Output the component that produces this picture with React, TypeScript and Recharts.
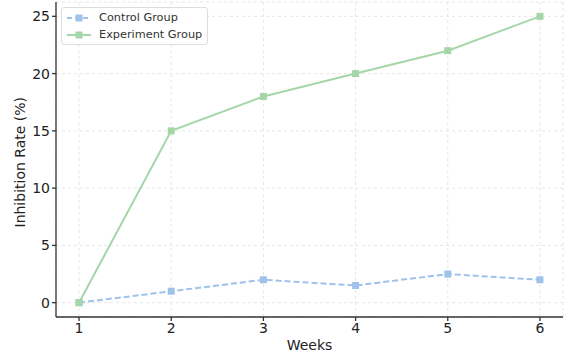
import { LineChart, Line, XAxis, YAxis, CartesianGrid } from "recharts";

const weeks = [1, 2, 3, 4, 5, 6];
const controlGroup = [0, 1, 2, 1.5, 2.5, 2];
const experimentGroup = [0, 15, 18, 20, 22, 25];
const yTicks = [0, 5, 10, 15, 20, 25];

const data = weeks.map((w, i) => ({
  week: w,
  control: controlGroup[i],
  experiment: experimentGroup[i],
}));

const FONT = "DejaVu Sans, sans-serif";
const BLUE = "#9ec2ea";
const GREEN = "#a5d6a7";

function Square(props: any) {
  const { cx, cy, fill } = props;
  if (cx == null || cy == null) return null;
  return <rect x={cx - 3.5} y={cy - 3.5} width={7} height={7} fill={fill} />;
}

function LegendBox() {
  const items = [
    { label: "Control Group", color: BLUE, dash: "5 3" },
    { label: "Experiment Group", color: GREEN, dash: undefined },
  ];
  return (
    <div
      style={{
        position: "absolute",
        left: 61,
        top: 7,
        background: "rgba(255,255,255,0.85)",
        border: "1px solid #dddddd",
        borderRadius: 3,
        padding: "1px 5px 1px 4px",
        fontFamily: FONT,
        fontSize: 11.3,
        color: "#333",
        lineHeight: "17px",
      }}
    >
      {items.map((it) => (
        <div key={it.label} style={{ display: "flex", alignItems: "center" }}>
          <svg width={26} height={10} style={{ marginRight: 7 }}>
            <line x1={1} y1={5} x2={25} y2={5} stroke={it.color} strokeWidth={2} strokeDasharray={it.dash} />
            <rect x={9.5} y={1.5} width={7} height={7} fill={it.color} />
          </svg>
          <span>{it.label}</span>
        </div>
      ))}
    </div>
  );
}

export default function App() {
  return (
    <div style={{ position: "absolute", left: 0, top: 0, width: 588, height: 362, background: "#fff" }}>
      <LineChart
        width={588}
        height={362}
        data={data}
        margin={{ top: 2, right: 25, left: 0, bottom: 0 }}
      >
        <CartesianGrid stroke="#e6e6e6" strokeDasharray="3 3" />
        <XAxis
          dataKey="week"
          type="number"
          domain={[0.75, 6.25]}
          ticks={weeks}
          allowDataOverflow
          height={45}
          stroke="#333"
          strokeWidth={1.3}
          tickSize={4}
          tick={{ fontSize: 14, fontFamily: FONT, fill: "#222" }}
          label={{ value: "Weeks", position: "insideBottom", offset: 12, fontSize: 14, fontFamily: FONT, fill: "#222" }}
        />
        <YAxis
          type="number"
          domain={[-1.25, 26.25]}
          ticks={yTicks}
          allowDataOverflow
          width={56}
          stroke="#333"
          strokeWidth={1.3}
          tickSize={4}
          tick={{ fontSize: 14, fontFamily: FONT, fill: "#222" }}
          label={{
            value: "Inhibition Rate (%)",
            angle: -90,
            position: "insideLeft",
            offset: 20,
            dy: 68,
            fontSize: 14,
            fontFamily: FONT,
            fill: "#222",
          }}
        />
        <Line
          dataKey="control"
          name="Control Group"
          stroke={BLUE}
          strokeWidth={2}
          strokeDasharray="6 3"
          dot={<Square fill={BLUE} />}
          activeDot={false}
          isAnimationActive={false}
        />
        <Line
          dataKey="experiment"
          name="Experiment Group"
          stroke={GREEN}
          strokeWidth={2}
          dot={<Square fill={GREEN} />}
          activeDot={false}
          isAnimationActive={false}
        />
      </LineChart>
      <LegendBox />
    </div>
  );
}
